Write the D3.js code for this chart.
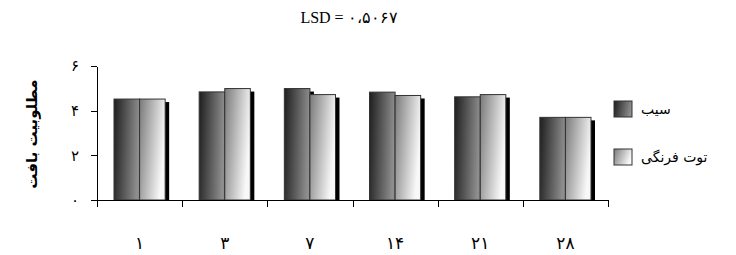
<!DOCTYPE html>
<html>
<head>
<meta charset="utf-8">
<title>LSD chart</title>
<style>
  body { margin: 0; background: #fff; }
  .axis path, .axis line { fill: none; stroke: #000; shape-rendering: crispEdges; }
</style>
</head>
<body>
<script src="https://cdn.jsdelivr.net/npm/d3@7/dist/d3.min.js"></script>
<script>
// data
var days = ["۱", "۳", "۷", "۱۴", "۲۱", "۲۸"];
var seriesNames = ["سیب", "توت فرنگی"];
var apple = [4.52, 4.84, 4.99, 4.83, 4.62, 3.70];
var strawberry = [4.52, 4.99, 4.72, 4.68, 4.72, 3.70];
var yTicks = [0, 2, 4, 6];
var yTickLabels = ["۰", "۲", "۴", "۶"];
var title = "LSD = ۰،۵۰۶۷";
var yLabel = "مطلوبیت بافت";

var W = 736, H = 255;
var svg = d3.select("body").append("svg").attr("width", W).attr("height", H)
    .style("font-family", "'DejaVu Sans', sans-serif");

var defs = svg.append("defs");
var g1 = defs.append("linearGradient").attr("id", "gDark")
    .attr("x1", "0").attr("y1", "0").attr("x2", "1").attr("y2", "0.15");
g1.append("stop").attr("offset", "0").attr("stop-color", "#1e1e1e");
g1.append("stop").attr("offset", "1").attr("stop-color", "#8e8e8e");
var g2 = defs.append("linearGradient").attr("id", "gLight")
    .attr("x1", "0").attr("y1", "0").attr("x2", "1").attr("y2", "0.35");
g2.append("stop").attr("offset", "0").attr("stop-color", "#7a7a7a");
g2.append("stop").attr("offset", "1").attr("stop-color", "#f8f8f8");
var fills = ["url(#gDark)", "url(#gLight)"];

var x = d3.scaleBand().domain(days).range([97, 608]).paddingInner(0).paddingOuter(0);
var y = d3.scaleLinear().domain([0, 6]).range([200, 66]);

var inner = 17;
var sub = d3.scaleBand().domain([0, 1]).range([inner, x.bandwidth() - inner]);

var rows = days.map(function (d, i) { return { day: d, vals: [apple[i], strawberry[i]] }; });

var groups = svg.selectAll(".grp").data(rows).enter().append("g")
    .attr("transform", function (d) { return "translate(" + x(d.day) + ",0)"; });

// shadows
groups.selectAll(".shadow").data(function (d) { return d.vals; }).enter().append("rect")
    .attr("x", function (v, j) { return sub(j) + 4; })
    .attr("y", function (v) { return y(v) + 3; })
    .attr("width", sub.bandwidth())
    .attr("height", function (v) { return y(0) - y(v) - 3; })
    .attr("fill", "#000");

groups.selectAll(".bar").data(function (d) { return d.vals; }).enter().append("rect")
    .attr("x", function (v, j) { return sub(j); })
    .attr("y", function (v) { return y(v); })
    .attr("width", sub.bandwidth())
    .attr("height", function (v) { return y(0) - y(v); })
    .attr("fill", function (v, j) { return fills[j]; })
    .attr("stroke", "#333")
    .attr("stroke-width", 1);

// y axis
var yAxis = svg.append("g").attr("class", "axis")
    .attr("transform", "translate(97,0)")
    .call(d3.axisLeft(y).tickValues(yTicks).tickSize(6).tickSizeOuter(0)
        .tickFormat(function (d, i) { return yTickLabels[i]; }));
yAxis.selectAll("text").style("font-size", "15px").style("font-family", "'DejaVu Sans', sans-serif")
    .attr("x", -18).attr("fill", "#000");

// x axis with ticks on band edges
var xa = svg.append("g").attr("class", "axis");
xa.append("line").attr("x1", 97).attr("x2", 608).attr("y1", 200.5).attr("y2", 200.5).attr("stroke", "#000");
var edges = days.map(function (d) { return x(d); }).concat([x.range()[1]]);
xa.selectAll(".tk").data(edges).enter().append("line")
    .attr("x1", function (d) { return Math.round(d) + 0.5; })
    .attr("x2", function (d) { return Math.round(d) + 0.5; })
    .attr("y1", 200).attr("y2", 207).attr("stroke", "#000");
xa.selectAll(".lbl").data(days).enter().append("text")
    .attr("x", function (d) { return x(d) + x.bandwidth() / 2; })
    .attr("y", 249)
    .attr("text-anchor", "middle")
    .style("font-size", "17px")
    .text(function (d) { return d; });

// title
svg.append("text").attr("x", 349).attr("y", 23).attr("text-anchor", "middle")
    .style("font-size", "16px").style("font-family", "'Liberation Serif', serif")
    .text(title);

// y label
svg.append("text").attr("transform", "translate(37,134) rotate(-90)")
    .attr("text-anchor", "middle").style("font-size", "15px").attr("font-weight", "bold")
    .text(yLabel);

// legend
var leg = svg.selectAll(".leg").data(seriesNames).enter().append("g")
    .attr("transform", function (d, i) { return "translate(614," + (101 + i * 48) + ")"; });
leg.append("rect").attr("width", 18).attr("height", 16)
    .attr("fill", function (d, i) { return fills[i]; })
    .attr("stroke", "#333");
leg.append("text").attr("x", 27).attr("y", 13).style("font-size", "14px")
    .attr("direction", "rtl").attr("text-anchor", "end")
    .text(function (d) { return d; });
</script>
</body>
</html>
